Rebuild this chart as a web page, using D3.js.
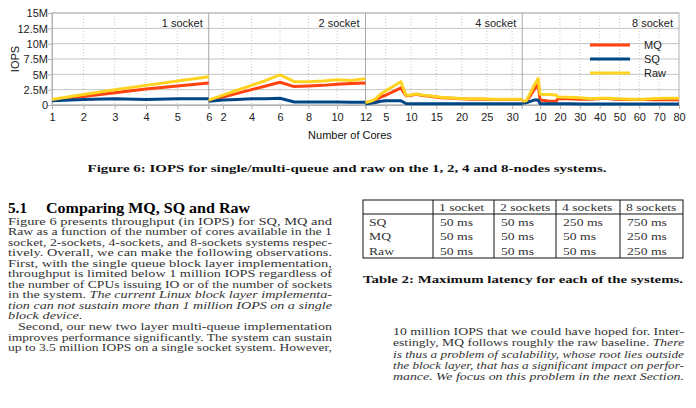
<!DOCTYPE html>
<html>
<head>
<meta charset="utf-8">
<script src="https://cdn.jsdelivr.net/npm/d3@7"></script>
<style>
  body { margin: 0; background: #fff; }
  svg { display: block; }
</style>
</head>
<body>
<svg id="page" width="696" height="408"></svg>
<script>
// y axis (millions of IOPS)
var yTicks = [0, 2.5, 5, 7.5, 10, 12.5, 15];
var yTickLabels = ['0', '2.5M', '5M', '7.5M', '10M', '12.5M', '15M'];

// one panel per system
var panelNames = ['1 socket', '2 socket', '4 socket', '8 socket'];
var panelMaxCores = [6, 12, 32, 80];
var panelTicks = [[1, 2, 3, 4, 5, 6], [2, 4, 6, 8, 10, 12], [5, 10, 15, 20, 25, 30], [10, 20, 30, 40, 50, 60, 70, 80]];

// 1 socket
var cores1 = [1, 2, 3, 4, 5, 6];
var mq1  = [0.8, 1.4, 2.0, 2.6, 3.1, 3.6];
var sq1  = [0.7, 0.9, 1.0, 0.9, 1.0, 1.0];
var raw1 = [0.9, 1.7, 2.5, 3.2, 3.9, 4.6];

// 2 sockets
var cores2 = [1, 2, 3, 4, 5, 6, 7, 8, 9, 10, 11, 12];
var mq2  = [0.7, 1.3, 1.9, 2.5, 3.1, 3.7, 3.0, 3.1, 3.2, 3.4, 3.5, 3.6];
var sq2  = [0.6, 0.8, 0.9, 1.0, 1.0, 1.1, 0.5, 0.5, 0.5, 0.5, 0.45, 0.45];
var raw2 = [0.8, 1.6, 2.4, 3.2, 4.0, 4.9, 3.8, 3.8, 3.9, 4.1, 4.0, 4.3];

// 4 sockets
var cores4 = [1, 2, 3, 4, 5, 6, 7, 8, 9, 10, 11, 12, 14, 16, 18, 20, 22, 24, 26, 28, 30, 32];
var mq4  = [0.4, 0.5, 0.8, 1.3, 1.6, 2.0, 2.4, 2.8, 1.5, 1.6, 1.75, 1.6, 1.4, 1.2, 1.1, 1.0, 0.95, 0.95, 0.9, 0.9, 0.9, 0.9];
var sq4  = [0.2, 0.3, 0.4, 0.6, 0.7, 0.7, 0.7, 0.7, 0.25, 0.2, 0.2, 0.2, 0.2, 0.2, 0.2, 0.2, 0.2, 0.2, 0.2, 0.2, 0.2, 0.2];
var raw4 = [0.4, 0.6, 1.0, 1.8, 2.3, 2.8, 3.3, 3.8, 1.6, 1.65, 1.8, 1.65, 1.45, 1.25, 1.15, 1.05, 1.0, 1.0, 0.95, 0.95, 0.95, 0.95];

// 8 sockets
var cores8 = [1, 3, 5, 7, 9, 10, 14, 18, 19, 24, 30, 36, 40, 44, 50, 56, 62, 68, 72, 80];
var mq8  = [0.55, 0.6, 1.5, 2.5, 3.4, 0.8, 0.65, 0.6, 1.0, 1.0, 0.95, 0.95, 1.05, 1.05, 0.9, 0.9, 0.9, 0.85, 0.85, 0.85];
var sq8  = [0.3, 0.35, 0.6, 0.8, 0.8, 0.2, 0.2, 0.2, 0.2, 0.2, 0.15, 0.15, 0.15, 0.15, 0.15, 0.15, 0.15, 0.15, 0.15, 0.15];
var raw8 = [0.6, 0.7, 1.9, 3.2, 4.3, 1.75, 1.7, 1.65, 1.3, 1.25, 1.2, 1.0, 1.1, 1.1, 1.0, 0.95, 0.95, 1.05, 1.1, 1.1];

var seriesNames = ['MQ', 'SQ', 'Raw'];
var seriesColors = ['#ff420e', '#004586', '#ffd320'];

// table 2
var tableHeader = ['1 socket', '2 sockets', '4 sockets', '8 sockets'];
var tableRowNames = ['SQ', 'MQ', 'Raw'];
var latencySQ  = ['50 ms', '50 ms', '250 ms', '750 ms'];
var latencyMQ  = ['50 ms', '50 ms', '50 ms', '250 ms'];
var latencyRaw = ['50 ms', '50 ms', '50 ms', '250 ms'];

var figCaption = 'Figure 6: IOPS for single/multi-queue and raw on the 1, 2, 4 and 8-nodes systems.';
var tableCaption = 'Table 2: Maximum latency for each of the systems.';

// paragraph lines: [normal part, italic part, justified?, indent]
var leftLines = [
  ['Figure 6 presents throughput (in IOPS) for SQ, MQ and', '', true, 0],
  ['Raw as a function of the number of cores available in the 1', '', true, 0],
  ['socket, 2-sockets, 4-sockets, and 8-sockets systems respec-', '', true, 0],
  ['tively.  Overall, we can make the following observations.', '', true, 0],
  ['First, with the single queue block layer implementation,', '', true, 0],
  ['throughput is limited below 1 million IOPS regardless of', '', true, 0],
  ['the number of CPUs issuing IO or of the number of sockets', '', true, 0],
  ['in the system. ', 'The current Linux block layer implementa-', true, 0],
  ['', 'tion can not sustain more than 1 million IOPS on a single', true, 0],
  ['', 'block device.', false, 0],
  ['Second, our new two layer multi-queue implementation', '', true, 10],
  ['improves performance significantly. The system can sustain', '', true, 0],
  ['up to 3.5 million IOPS on a single socket system. However,', '', true, 0]
];
var rightLines = [
  ['10 million IOPS that we could have hoped for. Inter-', '', true, 0],
  ['estingly, MQ follows roughly the raw baseline. ', 'There', true, 0],
  ['', 'is thus a problem of scalability, whose root lies outside', true, 0],
  ['', 'the block layer, that has a significant impact on perfor-', true, 0],
  ['', 'mance. We focus on this problem in the next Section.', true, 0]
];

var svg = d3.select('#page');
var sans = "'Liberation Sans', Arial, sans-serif";
var serif = "'Liberation Serif', 'Times New Roman', serif";

// the scanned page is wider than tall, so serif text is stretched sideways
function stretch(sel, factor) {
  sel.each(function() {
    var w = this.getComputedTextLength();
    d3.select(this).attr('textLength', w * factor).attr('lengthAdjust', 'spacingAndGlyphs');
  });
}

// ---------- chart ----------
var plotL = 52, plotR = 679, plotT = 13, plotB = 105;
var pw = (plotR - plotL) / 4;

var y = d3.scaleLinear().domain([0, 15]).range([plotB, plotT]);

var xs = panelMaxCores.map(function(m, i) {
  return d3.scaleLinear().domain([1, m]).range([plotL + i * pw, plotL + (i + 1) * pw]);
});

var chart = svg.append('g');

// horizontal grid
chart.selectAll('.hgrid').data(yTicks).enter().append('line')
  .attr('x1', plotL).attr('x2', plotR)
  .attr('y1', function(d) { return y(d); }).attr('y2', function(d) { return y(d); })
  .style('stroke', '#c4c4c4').style('stroke-width', 1);

// vertical dotted grid inside panels
xs.forEach(function(x, i) {
  var ticks = panelTicks[i].filter(function(t) { return t > 1 && t < panelMaxCores[i]; });
  chart.selectAll('.vg' + i).data(ticks).enter().append('line')
    .attr('x1', function(d) { return x(d); }).attr('x2', function(d) { return x(d); })
    .attr('y1', plotT).attr('y2', plotB)
    .style('stroke', '#c8c8c8').style('stroke-dasharray', '1,2');
});

// panel dividers
chart.selectAll('.div').data([1, 2, 3]).enter().append('line')
  .attr('x1', function(d) { return plotL + d * pw; }).attr('x2', function(d) { return plotL + d * pw; })
  .attr('y1', plotT).attr('y2', plotB + 4)
  .style('stroke', '#a8a8a8');

// plot frame
chart.append('rect')
  .attr('x', plotL).attr('y', plotT).attr('width', plotR - plotL).attr('height', plotB - plotT)
  .style('fill', 'none').style('stroke', '#b3b3b3');

// y axis
var yAxis = d3.axisLeft(y).tickValues(yTicks)
  .tickFormat(function(d, i) { return yTickLabels[i]; })
  .tickSize(4).tickSizeOuter(0);
var gy = chart.append('g').attr('transform', 'translate(' + plotL + ',0)').call(yAxis);
gy.select('.domain').style('stroke', '#b3b3b3');
gy.selectAll('line').style('stroke', '#b3b3b3');
gy.selectAll('text').style('font-family', sans).style('font-size', '11px').style('fill', '#222')
  .attr('x', -4).attr('dy', '0.36em');

// x axes, one per panel
xs.forEach(function(x, i) {
  var ax = d3.axisBottom(x).tickValues(panelTicks[i]).tickFormat(d3.format('d'))
    .tickSize(4).tickSizeOuter(0);
  var gx = chart.append('g').attr('transform', 'translate(0,' + plotB + ')').call(ax);
  gx.select('.domain').style('stroke', '#b3b3b3');
  gx.selectAll('line').style('stroke', '#b3b3b3');
  gx.selectAll('text').style('font-family', sans).style('font-size', '11px').style('fill', '#222')
    .attr('y', 8);
});

// panel labels
chart.selectAll('.plabel').data(panelNames).enter().append('text')
  .attr('x', function(d, i) { return plotL + (i + 1) * pw - 6; })
  .attr('y', 27)
  .attr('text-anchor', 'end')
  .style('font-family', sans).style('font-size', '11px').style('fill', '#222')
  .text(function(d) { return d; });

// axis titles
chart.append('text')
  .attr('transform', 'translate(19,' + ((plotT + plotB) / 2) + ') rotate(-90)')
  .attr('text-anchor', 'middle')
  .style('font-family', sans).style('font-size', '11px').style('fill', '#111')
  .text('IOPS');
chart.append('text')
  .attr('x', 350).attr('y', 139)
  .attr('text-anchor', 'middle')
  .style('font-family', sans).style('font-size', '11px').style('fill', '#111')
  .text('Number of Cores');

// series lines
var panelsData = [
  { x: xs[0], cores: cores1, vals: [mq1, sq1, raw1] },
  { x: xs[1], cores: cores2, vals: [mq2, sq2, raw2] },
  { x: xs[2], cores: cores4, vals: [mq4, sq4, raw4] },
  { x: xs[3], cores: cores8, vals: [mq8, sq8, raw8] }
];
[0, 1, 2].forEach(function(s) {
  panelsData.forEach(function(p) {
    var line = d3.line()
      .x(function(d, i) { return p.x(p.cores[i]); })
      .y(function(d) { return y(d); });
    chart.append('path')
      .datum(p.vals[s])
      .attr('d', line)
      .style('fill', 'none')
      .style('stroke', seriesColors[s])
      .style('stroke-width', 3)
      .style('stroke-linejoin', 'round');
  });
});

// legend
var legend = chart.append('g').attr('transform', 'translate(590,45)');
seriesNames.forEach(function(n, i) {
  legend.append('line')
    .attr('x1', 0).attr('x2', 40).attr('y1', i * 14).attr('y2', i * 14)
    .style('stroke', seriesColors[i]).style('stroke-width', 3);
  legend.append('text')
    .attr('x', 54).attr('y', i * 14).attr('dy', '0.36em')
    .style('font-family', sans).style('font-size', '11px').style('fill', '#222')
    .text(n);
});

// ---------- paper text ----------
svg.append('text')
  .attr('x', 347).attr('y', 172)
  .attr('text-anchor', 'middle')
  .attr('textLength', 519).attr('lengthAdjust', 'spacingAndGlyphs')
  .style('font-family', serif).style('font-size', '11px').style('font-weight', 'bold').style('fill', '#111')
  .text(figCaption);

var head = svg.append('text').attr('y', 213)
  .style('font-family', serif).style('font-size', '15px').style('font-weight', 'bold').style('fill', '#000');
head.append('tspan').attr('x', 8).attr('textLength', 19).attr('lengthAdjust', 'spacingAndGlyphs').text('5.1');
head.append('tspan').attr('x', 46).attr('textLength', 204).attr('lengthAdjust', 'spacingAndGlyphs')
  .text('Comparing MQ, SQ and Raw');

function paragraph(lines, x0, x1, y0, step) {
  lines.forEach(function(l, i) {
    var t = svg.append('text')
      .attr('x', x0 + l[3]).attr('y', y0 + i * step)
      .style('font-family', serif).style('font-size', '10.5px').style('fill', '#333');
    if (l[0]) t.append('tspan').text(l[0]);
    if (l[1]) t.append('tspan').style('font-style', 'italic').text(l[1]);
    if (l[2]) t.attr('textLength', x1 - x0 - l[3]).attr('lengthAdjust', 'spacingAndGlyphs');
    else t.call(stretch, 1.36);
  });
}
paragraph(leftLines, 8, 332, 224.5, 10.55);
paragraph(rightLines, 393, 684, 335, 11.3);

// table 2
var tL = 363, tR = 683, tT = 200, tH = 214, tB = 258;
var colX = [tL, 433, 494, 556, 620, tR];
var tbl = svg.append('g');
tbl.append('rect').attr('x', tL).attr('y', tT).attr('width', tR - tL).attr('height', tB - tT)
  .style('fill', 'none').style('stroke', '#111');
tbl.append('line').attr('x1', tL).attr('x2', tR).attr('y1', tH).attr('y2', tH).style('stroke', '#111');
tbl.selectAll('.col').data(colX.slice(1, 5)).enter().append('line')
  .attr('x1', function(d) { return d; }).attr('x2', function(d) { return d; })
  .attr('y1', tT).attr('y2', tB).style('stroke', '#111');

var cellStyle = function(sel) {
  sel.style('font-family', serif).style('font-size', '10.5px').style('fill', '#333');
};
tbl.selectAll('.hd').data(tableHeader).enter().append('text')
  .attr('x', function(d, i) { return colX[i + 1] + 6; }).attr('y', 210.5)
  .call(cellStyle).text(function(d) { return d; }).call(stretch, 1.3);
var rowY = [225.5, 239.5, 254.5];
var latency = [latencySQ, latencyMQ, latencyRaw];
tableRowNames.forEach(function(r, ri) {
  tbl.append('text').attr('x', tL + 6).attr('y', rowY[ri]).call(cellStyle).text(r).call(stretch, 1.3);
  latency[ri].forEach(function(v, ci) {
    tbl.append('text').attr('x', colX[ci + 1] + 7).attr('y', rowY[ri]).call(cellStyle).text(v).call(stretch, 1.3);
  });
});

svg.append('text')
  .attr('x', tL).attr('y', 283)
  .attr('textLength', tR - tL).attr('lengthAdjust', 'spacingAndGlyphs')
  .style('font-family', serif).style('font-size', '11px').style('font-weight', 'bold').style('fill', '#111')
  .text(tableCaption);
</script>
</body>
</html>
